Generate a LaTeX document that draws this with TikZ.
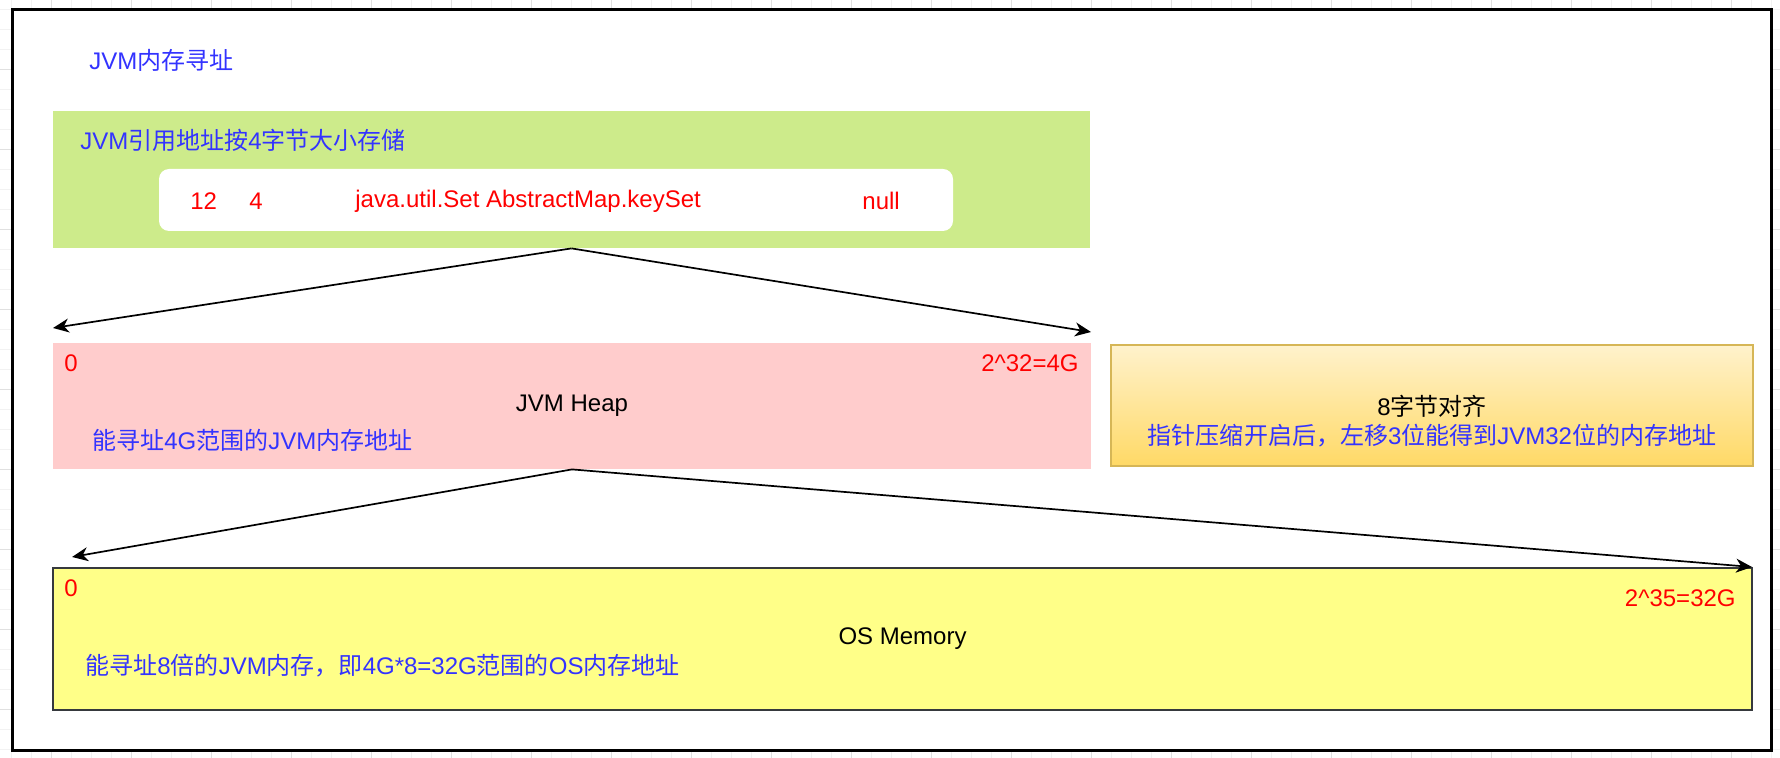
\documentclass[tikz,border=0pt]{standalone}
\usepackage{fontspec}
\setmainfont{Liberation Sans}
\newfontfamily\cjk{Noto Sans CJK SC}
\usetikzlibrary{arrows.meta,fit}
\definecolor{addrblue}{HTML}{3333FF}
\definecolor{addrred}{HTML}{FF0000}
\definecolor{refgreen}{HTML}{CDEB8B}
\definecolor{heappink}{HTML}{FFCCCC}
\definecolor{alignline}{HTML}{D6B656}
\definecolor{aligntop}{HTML}{FFF2CC}
\definecolor{alignbot}{HTML}{FFD966}
\definecolor{osyellow}{HTML}{FFFF88}
\definecolor{osline}{HTML}{36393D}
\begin{document}
\begin{tikzpicture}[x=.5pt,y=-.5pt, font=\fontsize{12}{14}\selectfont,
  band/.style={inner sep=0},
  lbl/.style={inner sep=0,anchor=west},
  note/.style={lbl,text=addrblue},
  num/.style={lbl,text=addrred},
  ptr/.style={-{Stealth[length=8pt,width=7pt,inset=2.5pt]},line width=.85pt}]
\useasboundingbox (0,0) rectangle (1780,758);
% grid round the frame
\foreach \i in {0,...,88} \draw[black!5,line width=.4pt] (11.7+20*\i,0)--+(0,758);
\foreach \i in {0,...,37} \draw[black!5,line width=.4pt] (0,9.3+20*\i)--+(1780,0);
\foreach \i in {0,...,21} \draw[black!12,line width=.4pt] (51.7+80*\i,0)--+(0,758);
\foreach \i in {0,...,8} \draw[black!12,line width=.4pt] (0,69.3+80*\i)--+(1780,0);
\draw[line width=1.5pt,fill=white] (12,10) rectangle (1771,750);
\node[note] (title) at (89,60) {JVM{\cjk 内存寻址}};
% reference row
\node[band,fit={(53,111) (1090,248)},fill=refgreen] (ref) {};
\node[note] (reftxt) at (80,140) {JVM{\cjk 引用地址按}4{\cjk 字节大小存储}};
\node[band,fit={(159,169) (953,231)},fill=white,rounded corners=5pt] (row) {};
\path (190,201) node[num] (hdr) {12} (249,201) node[num] (len) {4}
  (355,201) node[num] (cls) {java.util.Set AbstractMap.keySet} (862,201) node[num] (val) {null};
% heap
\node[band,fit={(53,343) (1091,469)},fill=heappink] (heap) {};
\path (64,363) node[num] (h0) {0} (1079,363) node[num,anchor=east] (hmax) {2\textasciicircum 32=4G}
  (heap.center) node (hname) {JVM Heap} (92,440) node[note] (htxt) {{\cjk 能寻址}4G{\cjk 范围的}JVM{\cjk 内存地址}};
\node[band,fit={(1111,345) (1753,466)},draw=alignline,line width=1pt,top color=aligntop,bottom color=alignbot] (align) {};
\path (1432,406) node (atitle) {8{\cjk 字节对齐}}
  (1432,436) node[text=addrblue,inner sep=0] (atxt) {{\cjk 指针压缩开启后，左移}3{\cjk 位能得到}JVM32{\cjk 位的内存地址}};
% os memory
\node[band,fit={(53,568) (1752,710)},fill=osyellow,draw=osline,line width=1.2pt] (os) {};
\path (64,588) node[num] (o0) {0} (1736,598) node[num,anchor=east] (omax) {2\textasciicircum 35=32G}
  (os.center) node (oname) {OS Memory}
  (85,666) node[note] (otxt) {{\cjk 能寻址}8{\cjk 倍的}JVM{\cjk 内存，即}4G*8=32G{\cjk 范围的}OS{\cjk 内存地址}};
\coordinate (heapL) at (53,328); \coordinate (heapR) at (1091,332);
\coordinate (osL) at (72,557); \coordinate (osR) at (1752,567);
\foreach \s/\t in {ref/heapL, ref/heapR, heap/osL, heap/osR} \draw[ptr] (\s.south) -- (\t);
\end{tikzpicture}
\end{document}
